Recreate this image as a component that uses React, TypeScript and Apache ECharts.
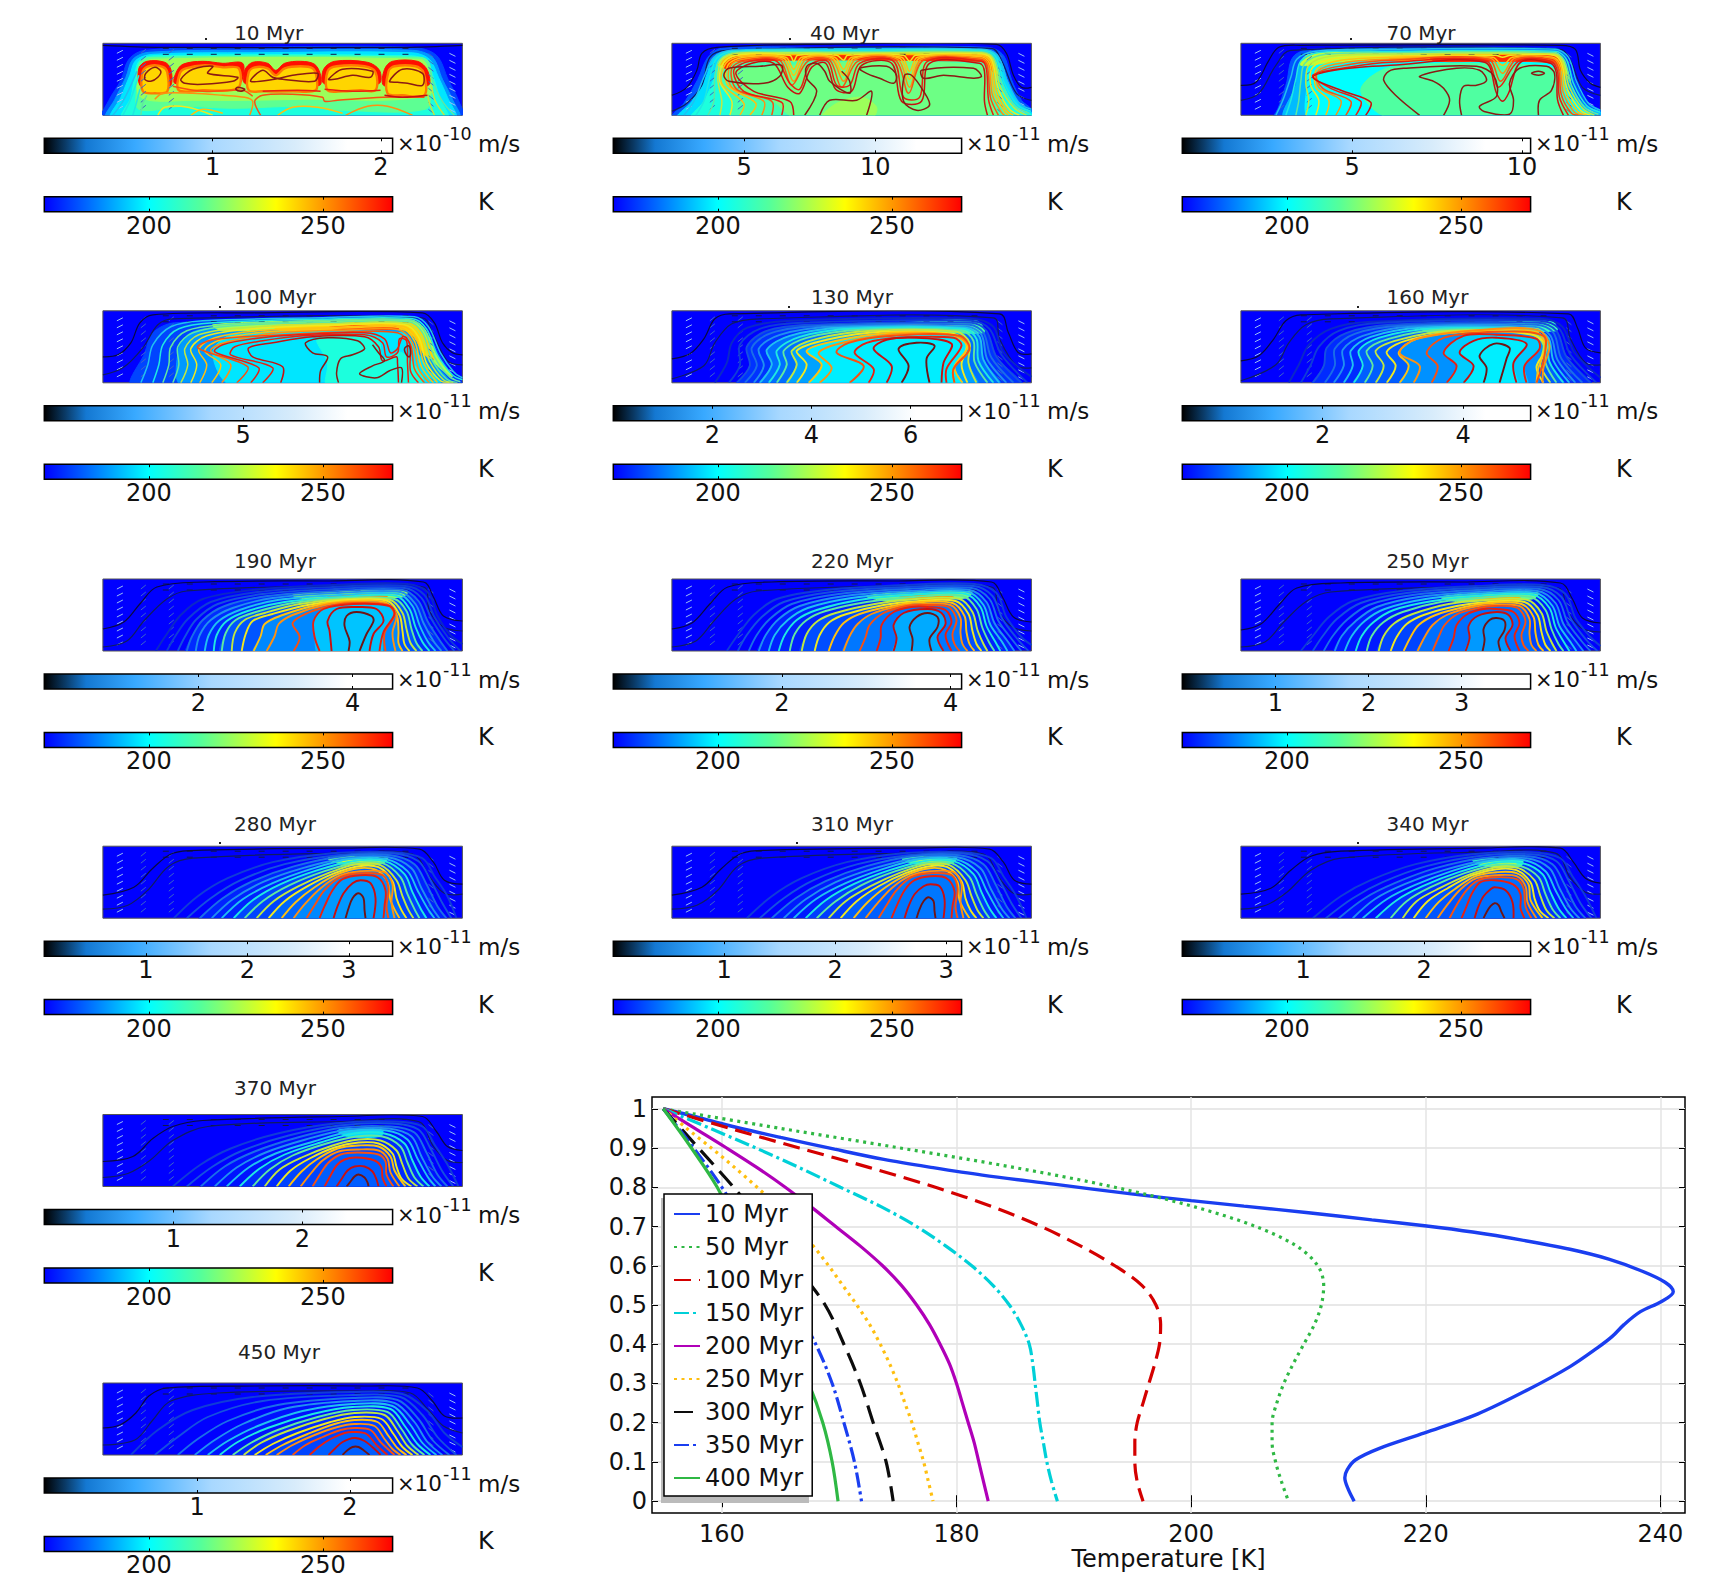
import React, { useEffect, useRef } from 'react';
import * as echarts from 'echarts';

const FONT = '"DejaVu Sans"';

const panelTitles = ['10 Myr', '40 Myr', '70 Myr', '100 Myr', '130 Myr', '160 Myr', '190 Myr', '220 Myr', '250 Myr', '280 Myr', '310 Myr', '340 Myr', '370 Myr', '450 Myr'];
const velocityMax = [2.07, 13.3, 10.25, 8.76, 7.03, 4.96, 4.52, 4.13, 3.74, 3.43, 3.14, 2.88, 2.7, 2.28];
const velocityTicks = [[1, 2], [5, 10], [5, 10], [5], [2, 4, 6], [2, 4], [2, 4], [2, 4], [1, 2, 3], [1, 2, 3], [1, 2, 3], [1, 2], [1, 2], [1, 2]];
const velocityExp = ['-10', '-11', '-11', '-11', '-11', '-11', '-11', '-11', '-11', '-11', '-11', '-11', '-11', '-11'];
const temperatureTicks = [200, 250];

const tempStops: [number, string][] = [[170, '#0000ff'], [200, '#00ffff'], [215, '#55ff9a'], [236.5, '#ffff00'], [270, '#ff0000']];
const velocityStops: [number, string][] = [[0, '#000000'], [0.06, '#0a3a66'], [0.12, '#1478d2'], [0.26, '#38a9ff'], [0.48, '#a8d8ff'], [0.72, '#d8ecfb'], [0.87, '#ffffff'], [1, '#ffffff']];
const contourColors = ['#0a28c8', '#0f3cd8', '#1450e0', '#1a6ee8', '#2090f0', '#20c0f0', '#20e8e0', '#60e8a0', '#c0e840', '#f0e820', '#ffc010', '#ff9010', '#f85010', '#e82010', '#c81010', '#701414'];
const outerColors = ['#0a0a40', '#101c60'];

// profile curves: [temperature K, height]
const curve10 = [[155, 1], [158, 0.978], [160.5, 0.958], [165, 0.927], [169.6, 0.897], [173.8, 0.871], [178, 0.85], [182.2, 0.831], [188.3, 0.808], [194.9, 0.783], [200, 0.766], [204.5, 0.752], [210, 0.735], [215.4, 0.717], [219.9, 0.702], [224, 0.686], [228.1, 0.666], [232.3, 0.642], [235.6, 0.617], [238.3, 0.588], [240.4, 0.558], [241.1, 0.534], [240.1, 0.509], [238.3, 0.483], [236.9, 0.45], [235.9, 0.42], [234.6, 0.39], [232.3, 0.343], [228.7, 0.284], [224.4, 0.222], [219.9, 0.174], [216, 0.134], [214, 0.105], [213.3, 0.08], [213.1, 0.06], [213.4, 0.03], [213.9, 0]];
const curve50 = [[155, 1], [165, 0.95], [175.2, 0.9], [185, 0.85], [193.5, 0.8], [200.3, 0.75], [205.5, 0.7], [209, 0.65], [210.8, 0.6], [211.3, 0.55], [211.1, 0.5], [210.5, 0.45], [209.6, 0.4], [208.7, 0.35], [207.9, 0.3], [207.3, 0.25], [206.9, 0.2], [206.9, 0.15], [207.2, 0.1], [207.7, 0.05], [208.3, 0]];
const curve100 = [[155, 1], [160.7, 0.95], [166.6, 0.9], [172.6, 0.85], [178.2, 0.8], [183.1, 0.75], [187.2, 0.7], [190.6, 0.65], [193.5, 0.6], [195.8, 0.55], [197, 0.5], [197.4, 0.45], [197.3, 0.4], [196.9, 0.35], [196.4, 0.3], [195.9, 0.25], [195.4, 0.2], [195.2, 0.15], [195.2, 0.1], [195.4, 0.05], [195.9, 0]];
const curve150 = [[155, 1], [159, 0.95], [162.9, 0.9], [166.6, 0.85], [170.1, 0.8], [173.6, 0.75], [176.6, 0.7], [179.1, 0.65], [181.3, 0.6], [183.1, 0.55], [184.5, 0.5], [185.5, 0.45], [186.2, 0.4], [186.5, 0.35], [186.7, 0.3], [186.9, 0.25], [187.1, 0.2], [187.4, 0.15], [187.7, 0.1], [188.1, 0.05], [188.6, 0]];
const curve200 = [[155, 1], [157.7, 0.95], [160.4, 0.9], [163, 0.85], [165.4, 0.8], [167.6, 0.75], [169.7, 0.7], [171.8, 0.65], [173.7, 0.6], [175.3, 0.55], [176.6, 0.5], [177.7, 0.45], [178.6, 0.4], [179.4, 0.35], [180, 0.3], [180.5, 0.25], [181, 0.2], [181.5, 0.15], [181.9, 0.1], [182.3, 0.05], [182.7, 0]];
const curve250 = [[155, 1], [157, 0.95], [159.1, 0.9], [161.1, 0.85], [163, 0.8], [164.8, 0.75], [166.4, 0.7], [167.8, 0.65], [169.1, 0.6], [170.3, 0.55], [171.5, 0.5], [172.6, 0.45], [173.5, 0.4], [174.3, 0.35], [175, 0.3], [175.6, 0.25], [176.2, 0.2], [176.7, 0.15], [177.2, 0.1], [177.6, 0.05], [178, 0]];
const curve300 = [[155, 1], [158, 0.9], [161, 0.8], [163.8, 0.7], [166.3, 0.6], [168.8, 0.5], [170.4, 0.4], [171.8, 0.3], [172.9, 0.2], [174, 0.1], [174.6, 0]];
const curve350 = [[155, 1], [157.6, 0.9], [160, 0.8], [162, 0.7], [164.2, 0.6], [166.2, 0.5], [168, 0.4], [169.4, 0.3], [170.4, 0.2], [171.3, 0.1], [171.9, 0]];
const curve400 = [[155, 1], [157.4, 0.9], [159.6, 0.8], [161.2, 0.7], [162.7, 0.6], [164.2, 0.5], [165.8, 0.4], [167.4, 0.3], [168.6, 0.2], [169.4, 0.1], [169.9, 0]];

const profileNames = ['10 Myr', '50 Myr', '100 Myr', '150 Myr', '200 Myr', '250 Myr', '300 Myr', '350 Myr', '400 Myr'];
const profileCurves = [curve10, curve50, curve100, curve150, curve200, curve250, curve300, curve350, curve400];
const profileColors = ['#1a3ef0', '#2fb844', '#d40000', '#00d0d8', '#b000b8', '#ffbf10', '#0c0c0c', '#1a3ef0', '#2fb844'];
const profileDash: (number[] | string)[] = ['solid', [3, 4.5], [17, 8], [15, 4, 3, 4], 'solid', [3, 4.5], [19, 9], [15, 4, 3, 4], 'solid'];
const heightTicks = [0, 0.1, 0.2, 0.3, 0.4, 0.5, 0.6, 0.7, 0.8, 0.9, 1];
const temperatureAxisTicks = [160, 180, 200, 220, 240];

// velocity ticks drawn in every panel
const arrowColumnsLight = [14, 347];
const arrowColumnsDim = [38, 66, 326];
const arrowRows = [6, 13, 20, 27, 34, 41, 48, 55, 62];
const arrowTopXs = [60, 84, 108, 132, 156, 180, 204, 228, 252, 276, 300];
const arrowTopRows = [67, 61];

// panel shapes: flat x,y lists on a 360 x 72 domain
type P = number[];
type Patch = [number, P, number?];
const outer10: P[] = [[0, 70, 60, 68, 300, 68, 360, 70]];
const patches10: Patch[] = [
  [178, [0, -3, 6, 15, 18, 35, 26, 56, 42, 65, 150, 68, 310, 68, 334, 60, 346, 35, 356, 15, 360, -3]],
  [188, [4, -3, 12, 16, 23, 38, 30, 56, 46, 63, 150, 65, 310, 65, 330, 58, 340, 36, 350, 16, 356, -3]],
  [197, [9, -3, 18, 18, 27, 40, 33, 55, 50, 61, 150, 62.5, 310, 62.5, 327, 56, 336, 38, 345, 18, 352, -3]],
  [205, [20, -3, 28, 18, 32, 40, 36, 54, 50, 59.5, 310, 59.5, 324, 54, 332, 35, 337, 18, 344, -3]],
  [216, [36, 6, 34, 30, 37, 53, 50, 58, 318, 58, 327, 52, 329, 25, 323, 6, 240, 5, 200, 9, 130, 7, 80, 9]],
  [224, [38, 18, 37, 48, 50, 56, 318, 56, 325, 48, 326, 20, 200, 16, 90, 15]],
  [268, [37, 30, 36, 47, 44, 54, 62, 53, 68, 46, 68, 30, 58, 30, 45, 30]],
  [242, [40, 24, 40, 44, 47, 49.5, 60, 48.5, 64.5, 43, 64.5, 24, 52, 22], 254],
  [268, [72, 32, 73, 42, 80, 51, 100, 54, 120, 52, 140, 52, 139, 34, 135, 32, 100, 32]],
  [242, [76, 25, 77, 42, 83, 47, 102, 50, 120, 48, 136, 47, 135, 27, 100, 25], 254],
  [268, [142, 32, 142, 45, 150, 53, 165, 52, 173, 45, 182, 52, 198, 54, 212, 51, 218, 40, 217, 30, 190, 30, 160, 30]],
  [242, [146, 25, 146, 43, 152, 48, 165, 47, 173, 40, 182, 47, 198, 49, 210, 47, 214, 38, 213, 25, 190, 24, 160, 24], 254],
  [268, [221, 32, 221, 46, 232, 54, 265, 53, 277, 45, 277, 32, 260, 32, 240, 30]],
  [242, [225, 25, 225, 44, 234, 49, 262, 49, 273, 43, 273, 25, 258, 25, 240, 24], 254],
  [268, [281, 30, 282, 46, 290, 54, 315, 54, 325, 45, 326, 30, 300, 30]],
  [242, [285, 22, 286, 44, 292, 49, 313, 49, 321, 43, 322, 20, 300, 20], 254],
];
const arcs10: P[] = [
  [10, 0, 20, 14, 28, 30, 34, 44], [20, 0, 27, 14, 32, 28, 36, 40], [30, 0, 34, 14, 37, 26], [38, 0, 40, 12, 44, 20],
  [352, 0, 340, 14, 332, 30, 328, 44], [342, 0, 333, 14, 329, 30], [332, 0, 327, 12, 325, 22],
  [55, 0, 62, 8, 85, 8, 110, 0], [88, 0, 100, 6, 120, 2], [175, 0, 190, 8, 215, 8, 240, 2], [243, 0, 265, 9, 285, 9, 310, 0],
  [52, 16, 60, 22, 90, 22, 120, 20, 142, 18, 150, 14, 147, 0],
  [158, 0, 152, 14, 160, 20, 190, 21, 220, 18, 222, 14, 235, 15, 280, 18, 322, 18],
  [70, 29, 100, 24, 140, 25, 150, 19], [160, 24, 195, 25, 218, 24], [222, 26, 250, 24, 278, 25], [282, 20, 300, 18, 325, 20],
];
const loops10: P[] = [[43, 42, 52, 48, 58, 44, 55, 38, 48, 34, 42, 36], [78, 36, 90, 46, 110, 49, 105, 42, 135, 38, 130, 34, 100, 31, 82, 32], [148, 34, 160, 45, 170, 38, 180, 36, 212, 34, 215, 42, 190, 40, 172, 36], [226, 36, 240, 46, 270, 44, 268, 38, 250, 40, 232, 36], [287, 34, 300, 46, 320, 42, 320, 30, 305, 32, 295, 33], [135, 28, 142, 26, 138, 24, 133, 26]];

const outer40: P[] = [[0, 20, 15, 28, 25, 45, 30, 62, 45, 68, 150, 71, 325, 71, 335, 62, 342, 40, 350, 28, 360, 28], [0, 4, 15, 12, 30, 30, 38, 58, 55, 65, 320, 67, 330, 55, 345, 22, 360, 15]];
const patches40: Patch[] = [
  [180, [0, -3, 12, 12, 26, 36, 36, 58, 50, 67, 150, 68, 316, 68, 332, 60, 340, 36, 350, 15, 360, 6, 360, -3]],
  [196, [6, -3, 20, 14, 34, 38, 42, 58, 60, 65, 315, 65, 328, 58, 336, 34, 348, 11, 360, 3, 360, -3]],
  [205, [20, -3, 32, 14, 42, 36, 47, 55, 62, 60, 310, 60, 322, 55, 332, 30, 344, 9, 360, 1, 360, -3]],
  [212, [60, -3, 62, 14, 50, 32, 52, 52, 315, 54, 325, 28, 336, 6, 342, -3]],
  [218, [125, -3, 100, 15, 70, 25, 62, 45, 310, 50, 316, 20, 325, -3]],
  [224, [150, -3, 165, 12, 190, 18, 205, 8, 200, -3]],
  [228, [46, 50, 50, 58, 64, 62.5, 310, 62.5, 322, 58, 328, 38, 322, 50, 312, 57, 64, 57, 52, 48]],
  [245, [47, 50, 52, 56, 64, 60.5, 310, 60.5, 320, 56, 325, 40, 320, 50, 310, 55.5, 64, 55.5]],
  [264, [52, 48, 54, 53, 64, 58.5, 310, 58.5, 318, 54, 321, 44, 316, 50, 308, 54, 64, 54, 56, 46]],
];
const arcs40: P[] = [
  [12, 0, 22, 14, 32, 38, 42, 58, 60, 65, 180, 66, 310, 66, 326, 60, 336, 34, 348, 12, 360, 6],
  [24, 0, 32, 14, 38, 38, 45, 57, 62, 64, 180, 65, 310, 65, 324, 59, 333, 32, 346, 10, 360, 4],
  [36, 0, 42, 14, 43, 38, 48, 56, 64, 63, 180, 63.5, 310, 63.5, 322, 58, 331, 30, 344, 9, 358, 2],
  [48, 0, 50, 14, 46, 36, 50, 55, 66, 62, 120, 62, 180, 62, 310, 62.5, 321, 57, 329, 28, 342, 8, 355, 0],
  [58, 0, 60, 14, 48, 34, 52, 53, 68, 60.5, 118, 60, 122, 54, 126, 60, 165, 60, 172, 55, 176, 60, 232, 60, 238, 54, 244, 60, 310, 61, 320, 56, 327, 26, 338, 6, 348, 0],
  [68, 0, 72, 12, 50, 32, 54, 52, 70, 59, 114, 58, 122, 46, 130, 58, 163, 58, 172, 46, 180, 58, 230, 58, 238, 44, 246, 58, 310, 60, 319, 54, 325, 24, 335, 5, 342, 0],
  [78, 0, 84, 12, 56, 30, 56, 50, 72, 58, 112, 57, 122, 40, 132, 57, 161, 57, 172, 40, 182, 57, 228, 57, 238, 36, 248, 57, 310, 58.5, 318, 52, 323, 22, 333, 4, 337, 0],
  [90, 0, 92, 14, 60, 28, 58, 49, 74, 56.5, 110, 56, 122, 34, 134, 56, 160, 56, 172, 34, 184, 56, 226, 56, 238, 28, 250, 56, 310, 57, 317, 50, 321, 20, 330, 3, 333, 0],
  [100, 0, 100, 14, 65, 26, 60, 47, 76, 55, 108, 55, 120, 30, 136, 54, 158, 55, 170, 28, 186, 54, 224, 55, 237, 22, 252, 55, 310, 55.5, 316, 48, 319, 18, 327, 0],
  [110, 0, 110, 13, 72, 24, 62, 45, 78, 54, 105, 54, 118, 32, 128, 26, 138, 50, 156, 54, 165, 30, 178, 30, 188, 52, 222, 54, 232, 18, 248, 18, 256, 54, 310, 54, 315, 46, 317, 16, 322, 0],
  [122, 0, 118, 14, 82, 24, 64, 42, 80, 52, 102, 52, 116, 28, 128, 22, 140, 48, 154, 52, 164, 26, 180, 24, 190, 50, 220, 52, 230, 14, 250, 14, 258, 52, 308, 52, 313, 44, 313, 14, 316, 0],
];
const loops40: P[] = [[57, 47, 88, 49, 110, 50, 108, 39, 92, 32, 57, 34, 52, 40], [133, 0, 145, 24, 135, 37, 135, 49, 145, 52, 153, 44, 158, 34, 178, 22, 178, 34, 170, 44], [188, 47, 215, 49, 225, 40, 222, 32, 208, 37, 195, 42], [148, 0, 158, 15, 185, 15, 200, 24, 195, 0], [250, 45, 302, 47, 310, 39, 302, 37, 272, 40, 252, 37], [233, 40, 232, 14, 245, 5, 258, 10, 252, 24, 240, 40]];

const outer70: P[] = [[0, 30, 15, 33, 28, 55, 38, 68, 60, 70, 320, 70, 335, 66, 340, 45, 350, 32, 360, 28], [0, 15, 18, 22, 35, 50, 50, 65, 320, 66, 330, 55, 342, 28, 360, 20]];
const patches70: Patch[] = [
  [180, [0, -3, 30, -3, 45, 30, 52, 58, 70, 66, 315, 67, 325, 60, 334, 35, 347, 12, 360, 5, 360, -3]],
  [192, [45, -3, 55, 30, 60, 55, 75, 62, 313, 63, 322, 55, 330, 32, 344, 10, 360, 3, 360, -3]],
  [200, [70, -3, 66, 30, 70, 52, 90, 58, 310, 60, 320, 52, 326, 28, 340, 8, 355, -3]],
  [214, [150, -3, 120, 25, 150, 48, 300, 50, 320, 42, 320, 20, 332, -3]],
  [228, [60, 50, 66, 60, 90, 63, 314, 63, 322, 57, 330, 34, 322, 48, 312, 58, 150, 56, 90, 53]],
  [246, [150, 59, 250, 61, 314, 61, 320, 56, 325, 40, 318, 50, 310, 56, 250, 56, 150, 55]],
  [264, [190, 57, 250, 59.5, 314, 59.5, 319, 54, 320, 44, 314, 52, 250, 54, 195, 54]],
];
const arcs70: P[] = [
  [35, 0, 42, 15, 50, 38, 56, 56, 75, 64, 150, 66, 315, 66, 328, 58, 336, 34, 348, 12, 360, 5],
  [45, 0, 50, 15, 55, 36, 60, 54, 80, 63, 150, 64, 315, 64, 326, 56, 333, 32, 346, 10, 360, 3],
  [55, 0, 58, 15, 60, 34, 64, 52, 85, 61, 150, 62.5, 314, 62.5, 324, 55, 331, 30, 344, 8, 358, 1],
  [65, 0, 68, 15, 65, 32, 68, 50, 90, 59, 150, 61, 314, 61, 322, 54, 329, 28, 342, 7, 354, 0],
  [75, 0, 78, 15, 70, 30, 72, 48, 95, 57, 150, 59, 255, 60, 262, 58, 270, 60, 313, 60, 321, 52, 327, 26, 340, 5, 350, 0],
  [85, 0, 88, 15, 75, 28, 76, 46, 100, 55, 150, 58, 252, 58, 262, 50, 272, 58, 312, 58, 320, 50, 325, 24, 337, 4, 346, 0],
  [95, 0, 100, 15, 78, 28, 78, 45, 105, 53, 150, 56, 250, 57, 262, 42, 274, 57, 312, 57, 319, 48, 323, 22, 334, 3, 342, 0],
  [105, 0, 110, 14, 82, 27, 76, 42, 110, 51, 150, 55, 248, 56, 260, 34, 276, 56, 311, 55, 318, 46, 321, 20, 331, 2, 338, 0],
  [115, 0, 120, 14, 90, 27, 72, 40, 108, 48, 150, 53, 246, 54, 258, 28, 278, 54, 310, 54, 317, 44, 319, 18, 328, 0],
  [125, 0, 130, 13, 100, 25, 72, 38, 100, 46, 150, 50, 244, 53, 256, 22, 262, 14, 268, 22, 280, 53, 310, 52, 316, 42, 317, 16, 323, 0],
];
const loops70: P[] = [[179, 0, 156, 19, 143, 35, 148, 44, 163, 47, 236, 49, 253, 40, 256, 19, 239, 9, 243, 4, 269, 1, 273, 15, 269, 32, 279, 47, 306, 49, 314, 42, 311, 25, 299, 15, 298, 0], [203, 0, 209, 15, 203, 27, 193, 34, 179, 39, 216, 47, 239, 45, 246, 35, 236, 30, 223, 29, 219, 15, 221, 0], [291, 42, 298, 44, 304, 42, 298, 40]];

const outer100: P[] = [[0, 26, 15, 28, 28, 40, 37, 60, 50, 68, 150, 70, 320, 70, 332, 60, 340, 40, 350, 30, 360, 28], [0, 8, 20, 15, 40, 35, 55, 58, 70, 64, 320, 65, 330, 50, 345, 22, 360, 18]];
const patches100: Patch[] = [
  [178, [30, -3, 42, 30, 50, 50, 72, 60, 300, 65, 316, 63, 326, 50, 336, 30, 350, 8, 360, 0, 360, -3]],
  [188, [80, -3, 75, 30, 85, 48, 110, 55, 300, 60, 315, 55, 325, 30, 345, 5, 352, -3]],
  [197, [130, -3, 110, 30, 130, 48, 300, 50, 315, 30, 335, 3, 340, -3]],
  [205, [225, -3, 225, 20, 215, 45, 275, 45, 280, 25, 300, 30, 320, -3]],
  [225, [110, 58, 200, 62, 308, 63, 322, 54, 336, 25, 350, 6, 332, 20, 318, 42, 305, 54, 200, 55, 120, 52]],
  [242, [170, 57, 240, 60, 308, 60, 320, 50, 332, 24, 322, 28, 312, 45, 300, 53, 240, 53, 180, 52]],
  [262, [225, 55, 250, 57, 290, 57, 296, 54, 250, 53]],
];
const arcs100: P[] = [
  [38, 0, 45, 18, 50, 38, 68, 56, 100, 62, 220, 65, 312, 66, 326, 56, 338, 30, 352, 10, 360, 5],
  [50, 0, 56, 18, 60, 38, 76, 54, 110, 60, 220, 63.5, 310, 64, 324, 54, 335, 28, 350, 8, 360, 3],
  [60, 0, 66, 18, 68, 36, 84, 52, 120, 58, 225, 62, 308, 62.5, 322, 52, 332, 26, 347, 6, 358, 1],
  [70, 0, 76, 18, 75, 36, 90, 50, 130, 57, 230, 60.5, 306, 61, 320, 50, 329, 24, 344, 4, 355, 0],
  [78, 0, 85, 18, 82, 34, 96, 48, 140, 55, 235, 59, 304, 59.5, 318, 48, 327, 22, 341, 3, 351, 0],
  [88, 0, 94, 18, 88, 34, 104, 47, 150, 54, 240, 58, 302, 58, 316, 46, 324, 20, 338, 2, 347, 0],
  [97, 0, 104, 18, 96, 33, 112, 45, 155, 52, 245, 56, 300, 56.5, 314, 44, 322, 18, 335, 0],
  [109, 0, 118, 18, 102, 32, 118, 43, 165, 51, 250, 55, 298, 55, 312, 42, 319, 16, 331, 0],
  [119, 0, 128, 18, 108, 32, 125, 41, 175, 50, 250, 53, 296, 53, 310, 40, 316, 14, 327, 0],
  [134, 0, 145, 16, 95, 35, 110, 43, 180, 48, 250, 51, 295, 50, 308, 38, 312, 14, 322, 0],
  [148, 0, 156, 15, 112, 31, 120, 38, 150, 44, 195, 48, 262, 50, 282, 44, 288, 30, 295, 34, 300, 46, 304, 45, 308, 36, 308, 12, 316, 0],
  [160, 0, 170, 15, 128, 28, 132, 36, 160, 42, 200, 47, 262, 48, 280, 40, 284, 26, 295, 30, 297, 44, 304, 42, 305, 20, 306, 0],
  [178, 0, 180, 16, 150, 26, 146, 35, 170, 40, 210, 46, 262, 46, 276, 36, 280, 22, 294, 26, 295, 20, 296, 0],
];
const loops100: P[] = [[217, 0, 218, 12, 225, 26, 210, 30, 203, 40, 225, 45, 255, 42, 262, 34, 250, 28, 238, 24, 234, 10, 236, 0], [299, 0, 299, 15, 287, 12, 274, 5, 257, 9, 270, 17, 282, 22, 276, 30, 270, 38], [304, 28, 302, 34, 306, 37, 308, 32, 307, 26]];

const outer130: P[] = [[0, 24, 18, 29, 32, 44, 43, 64, 58, 69, 328, 69, 337, 50, 347, 30, 360, 29], [0, 4, 32, 17, 43, 40, 60, 59, 88, 64, 322, 65, 328, 44, 345, 17, 360, 15]];
const fills130: [number, number][] = [[2, 176], [5, 183], [8, 189], [10, 198]];
const patches130: Patch[] = [[212, [150, 57, 230, 60, 305, 62, 312, 50, 230, 54, 165, 54]], [240, [215, 58, 265, 58, 285, 56, 255, 55, 225, 55]]];
const arcs130: P[] = [
  [43, 0, 55, 20, 60, 40, 75, 55, 120, 62, 300, 64, 322, 56, 332, 30, 360, 6],
  [57, 0, 68, 17, 68, 38, 88, 54, 130, 60, 300, 62, 318, 54, 330, 28, 356, 0],
  [65, 0, 78, 17, 75, 36, 95, 52, 140, 58, 300, 60, 315, 52, 325, 26, 350, 0],
  [73, 0, 85, 17, 80, 35, 100, 50, 150, 57, 298, 58, 312, 50, 320, 25, 342, 0],
  [82, 0, 92, 17, 87, 34, 108, 48, 160, 56, 296, 56, 310, 48, 316, 23, 335, 0],
  [88, 0, 100, 18, 95, 33, 118, 47, 170, 55, 294, 55, 308, 46, 312, 23, 328, 0],
  [97, 0, 108, 18, 105, 32, 128, 46, 180, 54, 292, 54, 305, 44, 307, 22, 322, 0],
  [105, 0, 115, 18, 112, 32, 135, 45, 190, 53, 290, 52, 302, 42, 303, 21, 316, 0],
  [115, 0, 125, 18, 120, 32, 145, 44, 200, 52, 285, 51, 298, 40, 297, 20, 305, 0],
  [125, 0, 135, 18, 125, 32, 155, 43, 210, 51, 282, 49, 295, 38, 290, 18, 296, 0],
  [137, 0, 150, 18, 135, 32, 165, 42, 220, 50, 280, 48, 296, 36, 283, 16, 291, 0],
  [148, 0, 160, 15, 147, 30, 175, 41, 230, 49, 285, 47, 298, 34, 282, 14, 283, 0],
  [178, 0, 192, 17, 165, 30, 177, 40, 222, 47, 288, 47, 298, 34, 282, 14, 283, 0],
  [197, 0, 202, 14, 183, 30, 195, 40, 228, 45, 282, 45, 290, 37, 275, 14, 275, 0],
  [215, 0, 220, 17, 202, 34, 215, 43, 245, 45, 280, 39, 272, 20, 270, 0],
  [230, 0, 237, 17, 227, 34, 245, 40, 263, 37, 255, 24, 258, 0],
];

const outer160: P[] = [[0, 22, 18, 27, 33, 44, 45, 62, 60, 68, 328, 69, 337, 55, 345, 35, 360, 30], [0, 2, 35, 18, 48, 40, 65, 58, 90, 64, 322, 65, 330, 44, 345, 20, 360, 18]];
const fills160: [number, number][] = [[2, 175], [6, 181], [10, 187], [13, 194], [14, 198]];
const patches160: Patch[] = [[210, [180, 55, 240, 60, 312, 61, 316, 52, 250, 53, 190, 50]], [238, [220, 57, 280, 57, 300, 54, 250, 53]]];
const arcs160: P[] = [
  [48, 0, 58, 18, 68, 38, 90, 54, 130, 61, 300, 64, 322, 56, 334, 30, 360, 5],
  [60, 0, 70, 18, 78, 36, 98, 52, 140, 60, 300, 62, 319, 54, 330, 28, 356, 0],
  [72, 0, 83, 17, 86, 35, 106, 50, 150, 58, 298, 60, 316, 52, 326, 26, 350, 0],
  [84, 0, 94, 17, 94, 34, 114, 49, 160, 57, 296, 58, 313, 50, 321, 24, 342, 0],
  [93, 0, 103, 17, 102, 33, 122, 47, 170, 56, 294, 56, 310, 47, 317, 23, 335, 0],
  [103, 0, 112, 17, 110, 32, 130, 46, 180, 55, 292, 54, 308, 45, 313, 22, 329, 0],
  [113, 0, 122, 17, 118, 32, 138, 45, 190, 54, 290, 52, 306, 43, 309, 21, 323, 0],
  [124, 0, 132, 17, 126, 32, 148, 44, 200, 53, 288, 50, 305, 41, 305, 20, 316, 0],
  [135, 0, 143, 17, 135, 32, 158, 43, 210, 52, 290, 49, 303, 38, 300, 18, 310, 0],
  [146, 0, 155, 17, 146, 31, 168, 43, 225, 51, 292, 48, 306, 36, 296, 16, 303, 0],
  [159, 0, 168, 17, 158, 30, 176, 44, 230, 52, 295, 51, 305, 37, 298, 15, 296, 0],
  [173, 0, 179, 17, 159, 30, 176, 44, 256, 54, 299, 52, 309, 37, 303, 15, 302, 0],
  [191, 0, 197, 17, 186, 30, 203, 45, 256, 51, 303, 47, 304, 27, 296, 0],
  [206, 0, 216, 17, 203, 30, 223, 47, 256, 48, 296, 44, 299, 34, 284, 17, 286, 0],
  [223, 0, 233, 17, 219, 30, 233, 42, 256, 45, 286, 39, 273, 20, 276, 0],
  [243, 0, 246, 15, 239, 27, 253, 39, 269, 35, 266, 24, 259, 0],
];

const outer190: P[] = [[0, 22, 21, 29, 37, 47, 54, 64, 101, 69, 221, 70, 321, 69, 331, 54, 341, 35, 360, 30], [0, 4, 24, 10, 41, 30, 64, 52, 84, 60, 221, 65, 321, 64, 327, 40, 341, 24, 360, 20]];
const fills190: [number, number][] = [[3, 175], [7, 180], [10, 186], [13, 193]];
const patches190: Patch[] = [[222, [190, 56, 240, 60, 305, 60, 300, 54, 250, 53, 210, 51]], [252, [225, 54, 250, 56, 285, 55, 262, 52]]];
const arcs190: P[] = [
  [53, 0, 62, 14, 78, 36, 100, 52, 150, 61, 230, 66, 305, 67, 326, 58, 335, 35, 348, 16, 360, 7],
  [64, 0, 72, 14, 85, 32, 108, 49, 155, 59, 230, 64, 303, 65, 322, 56, 332, 34, 346, 13, 358, 0],
  [75, 0, 82, 14, 93, 31, 115, 47, 160, 57, 232, 62, 302, 63, 319, 53, 329, 32, 342, 12, 352, 0],
  [84, 0, 89, 14, 100, 31, 122, 45, 165, 55, 235, 60, 300, 61, 316, 50, 325, 30, 337, 11, 345, 0],
  [93, 0, 97, 16, 108, 31, 130, 43, 170, 53, 235, 58, 298, 59, 313, 47, 321, 28, 331, 10, 339, 0],
  [102, 0, 106, 16, 116, 30, 137, 41, 175, 51, 238, 56, 296, 57, 310, 45, 317, 26, 325, 10, 333, 0],
  [111, 0, 114, 16, 124, 30, 145, 40, 182, 49, 240, 54, 294, 55, 307, 42, 313, 24, 320, 9, 327, 0],
  [119, 0, 123, 18, 133, 31, 153, 39, 190, 48, 240, 53, 292, 52, 304, 40, 309, 22, 314, 8, 320, 0],
  [129, 0, 132, 18, 142, 31, 162, 38, 197, 47, 245, 52, 288, 51, 300, 38, 304, 22, 308, 8, 314, 0],
  [139, 0, 143, 17, 150, 30, 170, 37, 205, 46, 245, 51, 285, 50, 297, 36, 300, 20, 302, 7, 307, 0],
  [151, 0, 158, 15, 162, 27, 180, 36, 215, 46, 250, 50, 282, 49, 294, 36, 296, 20, 296, 8, 300, 0],
  [164, 0, 172, 15, 176, 27, 190, 36, 222, 46, 252, 49, 284, 47, 294, 36, 290, 18, 293, 0],
  [191, 0, 197, 14, 190, 28, 205, 38, 232, 46, 252, 48, 285, 46, 292, 36, 282, 18, 283, 0],
  [217, 0, 212, 14, 211, 30, 221, 42, 251, 47, 287, 45, 292, 37, 281, 19, 277, 0],
  [229, 0, 227, 20, 225, 30, 234, 42, 254, 44, 274, 42, 281, 30, 271, 17, 267, 0],
  [246, 0, 247, 10, 242, 25, 244, 35, 254, 39, 269, 35, 271, 30, 264, 17, 257, 0],
];

const outer220: P[] = [[0, 22, 20, 28, 38, 47, 56, 64, 100, 69, 221, 70, 320, 69, 331, 54, 342, 34, 360, 29], [0, 4, 24, 10, 42, 30, 64, 52, 86, 60, 221, 65, 320, 64, 327, 40, 341, 24, 360, 20]];
const fills220: [number, number][] = [[3, 174], [7, 179], [10, 184], [13, 190]];
const patches220: Patch[] = [[220, [195, 55, 245, 59, 300, 59, 295, 53, 250, 52, 215, 50]], [250, [228, 54, 252, 56, 282, 54, 262, 51]]];
const arcs220: P[] = [
  [55, 0, 66, 16, 82, 36, 105, 52, 155, 61, 235, 66, 303, 67, 325, 58, 335, 34, 350, 14, 360, 6],
  [66, 0, 75, 16, 90, 34, 112, 49, 160, 59, 235, 64, 302, 65, 321, 55, 331, 32, 346, 12, 357, 0],
  [77, 0, 85, 16, 98, 32, 120, 47, 167, 57, 236, 62, 300, 63, 318, 52, 327, 30, 341, 11, 350, 0],
  [87, 0, 94, 16, 107, 32, 128, 45, 173, 55, 238, 60, 298, 61, 315, 49, 323, 28, 336, 10, 343, 0],
  [97, 0, 103, 16, 116, 31, 136, 43, 180, 53, 240, 58, 296, 59, 312, 46, 319, 26, 330, 10, 336, 0],
  [107, 0, 113, 16, 125, 31, 145, 41, 187, 51, 240, 56, 294, 57, 309, 44, 315, 25, 324, 9, 329, 0],
  [118, 0, 123, 17, 135, 31, 154, 40, 195, 49, 242, 54, 291, 55, 305, 42, 311, 23, 318, 8, 323, 0],
  [130, 0, 135, 17, 146, 30, 164, 38, 203, 47, 245, 52, 288, 52, 301, 39, 306, 21, 312, 7, 316, 0],
  [143, 0, 148, 16, 158, 29, 175, 37, 212, 46, 248, 50, 284, 50, 297, 37, 301, 20, 305, 7, 310, 0],
  [157, 0, 163, 15, 172, 28, 188, 37, 220, 45, 250, 49, 281, 48, 293, 35, 295, 19, 298, 7, 303, 0],
  [172, 0, 178, 15, 186, 27, 200, 37, 228, 45, 252, 47, 279, 46, 289, 33, 289, 18, 291, 7, 296, 0],
  [188, 0, 194, 14, 198, 26, 212, 38, 235, 45, 254, 46, 277, 44, 285, 31, 281, 17, 283, 7, 288, 0],
  [205, 0, 209, 13, 210, 26, 222, 39, 240, 44, 256, 44, 274, 41, 280, 29, 274, 16, 280, 0],
  [222, 0, 225, 13, 222, 26, 232, 38, 256, 42, 270, 38, 274, 27, 266, 14, 272, 0],
  [240, 0, 241, 12, 238, 24, 245, 34, 256, 38, 266, 34, 266, 24, 258, 12, 260, 0],
];

const outer250: P[] = [[0, 21, 20, 27, 38, 46, 56, 63, 100, 68, 221, 69, 320, 68, 332, 52, 342, 33, 360, 28], [0, 4, 24, 9, 42, 28, 66, 50, 90, 59, 221, 64, 318, 63, 327, 40, 341, 23, 360, 19]];
const fills250: [number, number][] = [[3, 173], [7, 178], [10, 183], [13, 188]];
const patches250: Patch[] = [[218, [200, 54, 245, 58, 298, 58, 292, 52, 250, 51, 220, 49]], [246, [230, 53, 252, 55, 280, 53, 262, 50]]];
const arcs250: P[] = [
  [60, 0, 72, 15, 88, 34, 112, 50, 160, 60, 235, 65, 302, 66, 325, 57, 335, 33, 350, 14, 360, 5],
  [72, 0, 82, 15, 96, 32, 120, 48, 166, 58, 235, 63, 301, 64, 321, 54, 331, 31, 346, 11, 357, 0],
  [83, 0, 92, 15, 106, 31, 128, 46, 172, 56, 236, 61, 299, 62, 318, 51, 327, 29, 341, 10, 350, 0],
  [94, 0, 101, 15, 115, 30, 136, 44, 178, 54, 238, 59, 297, 60, 315, 48, 323, 27, 336, 9, 343, 0],
  [104, 0, 111, 15, 124, 30, 144, 42, 185, 52, 240, 57, 295, 58, 312, 45, 319, 25, 330, 9, 336, 0],
  [115, 0, 121, 15, 133, 29, 153, 41, 192, 50, 240, 55, 293, 56, 309, 43, 315, 24, 324, 8, 329, 0],
  [126, 0, 131, 15, 143, 29, 162, 39, 200, 49, 242, 53, 290, 54, 305, 41, 311, 22, 318, 7, 323, 0],
  [138, 0, 143, 15, 154, 28, 172, 37, 208, 47, 245, 51, 287, 51, 301, 38, 306, 20, 312, 7, 316, 0],
  [150, 0, 156, 14, 166, 27, 183, 36, 216, 45, 248, 49, 284, 49, 297, 36, 301, 19, 305, 6, 310, 0],
  [163, 0, 170, 14, 178, 26, 195, 36, 224, 44, 250, 48, 281, 47, 293, 34, 295, 18, 298, 6, 303, 0],
  [177, 0, 184, 14, 192, 26, 206, 36, 232, 44, 252, 46, 279, 45, 289, 32, 289, 17, 291, 6, 296, 0],
  [192, 0, 198, 14, 204, 26, 217, 37, 238, 43, 254, 45, 277, 43, 285, 30, 281, 16, 283, 6, 288, 0],
  [208, 0, 213, 13, 216, 26, 227, 37, 243, 42, 256, 42, 273, 39, 279, 28, 274, 15, 279, 0],
  [225, 0, 229, 13, 228, 25, 237, 35, 256, 39, 268, 36, 272, 26, 265, 13, 270, 0],
  [242, 0, 244, 11, 243, 22, 249, 31, 256, 33, 264, 30, 264, 21, 258, 10, 260, 0],
];

const outer280: P[] = [[0, 23, 31, 31, 50, 50, 70, 65, 100, 68, 240, 70, 317, 69, 331, 56, 342, 38, 360, 34], [0, 9, 25, 13, 45, 28, 66, 52, 90, 60, 240, 65, 310, 64, 328, 40, 342, 25, 360, 24]];
const fills280: [number, number][] = [[2, 174], [5, 178], [8, 182], [10, 186], [12, 188]];
const patches280: Patch[] = [[216, [225, 60, 250, 62, 285, 60, 280, 55, 240, 54]], [234, [240, 57, 260, 58, 278, 56, 255, 54]]];
const arcs280: P[] = [
  [71, 0, 95, 22, 125, 40, 170, 56, 230, 65, 290, 66, 320, 60, 332, 42, 345, 22, 354, 0],
  [84, 0, 108, 20, 138, 38, 182, 54, 235, 63, 290, 65, 316, 57, 328, 38, 340, 15, 349, 0],
  [97, 0, 120, 20, 150, 37, 192, 52, 240, 62, 288, 63, 312, 54, 324, 34, 335, 12, 344, 0],
  [109, 0, 130, 19, 160, 36, 200, 50, 243, 60, 286, 61, 309, 50, 319, 30, 330, 10, 337, 0],
  [119, 0, 140, 19, 170, 35, 208, 49, 246, 59, 284, 59, 305, 47, 315, 28, 325, 10, 332, 0],
  [131, 0, 150, 18, 178, 34, 215, 48, 250, 57, 282, 57, 302, 44, 310, 26, 318, 10, 324, 0],
  [142, 0, 160, 17, 187, 33, 222, 47, 252, 55, 280, 55, 298, 41, 305, 24, 312, 9, 317, 0],
  [154, 0, 171, 17, 196, 32, 228, 46, 254, 54, 278, 53, 294, 38, 300, 22, 306, 8, 311, 0],
  [166, 0, 182, 17, 205, 32, 232, 45, 256, 52, 276, 51, 290, 37, 294, 20, 299, 8, 304, 0],
  [179, 0, 193, 16, 212, 31, 235, 44, 256, 50, 274, 48, 285, 36, 288, 18, 297, 0],
  [191, 0, 203, 15, 218, 30, 236, 42, 258, 47, 282, 46, 290, 34, 289, 16, 292, 0],
  [204, 0, 212, 13, 222, 28, 238, 41, 258, 45, 280, 43, 286, 30, 284, 12, 286, 0],
  [217, 0, 222, 12, 230, 28, 240, 39, 258, 43, 275, 41, 283, 28, 282, 12, 281, 0],
  [231, 0, 235, 12, 241, 25, 250, 35, 258, 38, 268, 35, 273, 20, 271, 0],
  [243, 0, 246, 10, 250, 20, 256, 25, 261, 20, 262, 8, 263, 0],
];

const outer310: P[] = [[0, 23, 30, 31, 50, 50, 70, 65, 100, 68, 240, 70, 318, 69, 332, 56, 343, 38, 360, 34], [0, 9, 25, 13, 46, 28, 66, 52, 90, 60, 240, 65, 312, 64, 328, 40, 342, 25, 360, 24]];
const fills310: [number, number][] = [[2, 173], [5, 177], [8, 181], [11, 184]];
const patches310: Patch[] = [[212, [230, 60, 255, 62, 285, 60, 280, 55, 245, 54]], [230, [245, 57, 262, 58, 276, 56, 258, 54]]];
const arcs310: P[] = [
  [75, 0, 100, 22, 130, 40, 175, 56, 232, 65, 290, 66, 320, 60, 332, 42, 345, 22, 355, 0],
  [88, 0, 112, 20, 142, 38, 186, 54, 237, 63, 290, 65, 316, 57, 328, 38, 340, 15, 350, 0],
  [100, 0, 124, 20, 154, 37, 195, 52, 241, 62, 288, 63, 312, 54, 324, 34, 335, 12, 344, 0],
  [112, 0, 134, 19, 164, 36, 203, 50, 245, 60, 286, 61, 309, 50, 319, 30, 330, 10, 338, 0],
  [122, 0, 144, 19, 174, 35, 211, 49, 248, 59, 284, 59, 305, 47, 315, 28, 325, 10, 332, 0],
  [134, 0, 154, 18, 182, 34, 218, 48, 252, 57, 282, 57, 302, 44, 310, 26, 318, 10, 325, 0],
  [145, 0, 164, 17, 190, 33, 224, 47, 254, 55, 280, 55, 298, 41, 305, 24, 312, 9, 318, 0],
  [157, 0, 174, 17, 199, 32, 230, 46, 256, 54, 278, 53, 294, 38, 300, 22, 306, 8, 312, 0],
  [169, 0, 185, 17, 207, 32, 234, 45, 258, 52, 276, 51, 290, 37, 294, 20, 299, 8, 305, 0],
  [182, 0, 196, 16, 214, 31, 237, 44, 258, 50, 274, 48, 286, 36, 288, 18, 298, 0],
  [194, 0, 206, 15, 220, 30, 238, 42, 259, 47, 282, 46, 290, 34, 289, 16, 292, 0],
  [207, 0, 215, 13, 225, 28, 240, 41, 259, 45, 280, 43, 286, 30, 284, 12, 286, 0],
  [220, 0, 225, 12, 233, 28, 243, 38, 259, 42, 275, 40, 283, 27, 281, 12, 280, 0],
  [233, 0, 237, 12, 243, 24, 252, 32, 259, 34, 268, 32, 273, 19, 272, 0],
  [245, 0, 248, 9, 252, 17, 257, 21, 262, 17, 263, 7, 264, 0],
];

const outer340: P[] = [[0, 24, 30, 30, 50, 48, 70, 62, 100, 67, 240, 70, 320, 70, 333, 56, 345, 40, 360, 35], [0, 9, 25, 13, 46, 26, 70, 48, 100, 60, 240, 66, 315, 65, 330, 40, 345, 26, 360, 24]];
const fills340: [number, number][] = [[2, 172], [5, 176], [8, 180], [11, 183]];
const patches340: Patch[] = [[208, [232, 58, 256, 60, 282, 58, 280, 52, 245, 52]], [226, [240, 54, 260, 56, 276, 54, 258, 51]]];
const arcs340: P[] = [
  [72, 0, 100, 22, 130, 38, 175, 54, 232, 64, 290, 66, 320, 60, 332, 42, 345, 22, 356, 0],
  [85, 0, 112, 20, 142, 36, 186, 52, 237, 62, 290, 64, 316, 57, 328, 38, 340, 15, 351, 0],
  [98, 0, 124, 20, 154, 35, 195, 50, 241, 60, 288, 62, 312, 54, 324, 34, 335, 12, 345, 0],
  [112, 0, 134, 19, 164, 34, 203, 48, 245, 58, 286, 60, 309, 50, 319, 30, 330, 10, 339, 0],
  [122, 0, 146, 19, 174, 33, 211, 47, 248, 57, 284, 58, 305, 47, 315, 28, 325, 10, 333, 0],
  [135, 0, 156, 18, 182, 32, 218, 46, 252, 55, 282, 55, 302, 44, 310, 26, 318, 10, 326, 0],
  [150, 0, 166, 17, 190, 31, 224, 45, 254, 53, 280, 52, 298, 41, 305, 24, 312, 9, 320, 0],
  [162, 0, 176, 17, 199, 30, 230, 44, 256, 51, 278, 50, 294, 38, 300, 22, 306, 8, 314, 0],
  [173, 0, 187, 17, 207, 30, 232, 43, 256, 49, 276, 48, 290, 36, 294, 20, 299, 8, 308, 0],
  [185, 0, 198, 16, 214, 29, 235, 42, 256, 46, 276, 45, 288, 34, 290, 18, 302, 0],
  [197, 0, 208, 15, 220, 29, 236, 40, 256, 43, 276, 42, 285, 32, 287, 16, 296, 0],
  [209, 0, 216, 13, 226, 28, 238, 38, 255, 41, 276, 39, 283, 30, 285, 12, 291, 0],
  [221, 0, 226, 12, 232, 26, 240, 36, 254, 38, 272, 34, 280, 24, 280, 10, 284, 0],
  [234, 0, 238, 12, 243, 22, 250, 29, 254, 31, 265, 28, 272, 16, 273, 0],
  [243, 0, 246, 6, 250, 12, 254, 15, 258, 13, 261, 6, 264, 0],
];

const outer370: P[] = [[0, 25, 30, 30, 50, 48, 70, 60, 100, 66, 240, 70, 320, 70, 334, 55, 345, 40, 360, 36], [0, 9, 25, 13, 47, 26, 70, 46, 105, 60, 240, 65, 316, 65, 331, 40, 345, 26, 360, 24]];
const fills370: [number, number][] = [[2, 172], [5, 175], [8, 178], [11, 181]];
const patches370: Patch[] = [[196, [235, 56, 256, 58, 280, 56, 278, 50, 245, 50]]];
const arcs370: P[] = [
  [70, 0, 98, 22, 128, 38, 175, 53, 232, 63, 290, 65, 320, 60, 332, 42, 345, 22, 356, 0],
  [84, 0, 110, 20, 140, 36, 186, 51, 237, 61, 290, 63, 316, 57, 328, 38, 340, 15, 351, 0],
  [98, 0, 122, 20, 152, 35, 195, 49, 241, 59, 288, 60, 312, 54, 324, 34, 335, 12, 345, 0],
  [112, 0, 134, 19, 163, 34, 203, 47, 245, 57, 286, 58, 309, 50, 319, 30, 330, 10, 339, 0],
  [124, 0, 146, 19, 173, 33, 211, 45, 248, 55, 284, 56, 305, 47, 315, 28, 325, 10, 333, 0],
  [137, 0, 157, 18, 182, 32, 218, 44, 252, 53, 282, 53, 302, 43, 310, 26, 318, 10, 327, 0],
  [150, 0, 167, 17, 190, 31, 224, 43, 254, 50, 280, 50, 298, 40, 305, 24, 312, 9, 321, 0],
  [162, 0, 177, 17, 199, 29, 230, 41, 256, 47, 278, 46, 294, 36, 300, 22, 306, 8, 315, 0],
  [174, 0, 188, 16, 207, 28, 232, 39, 256, 44, 276, 43, 290, 33, 294, 20, 299, 8, 309, 0],
  [186, 0, 199, 15, 214, 27, 235, 38, 256, 41, 276, 40, 288, 30, 292, 16, 303, 0],
  [198, 0, 209, 14, 220, 26, 236, 35, 256, 37, 276, 36, 285, 28, 288, 14, 297, 0],
  [210, 0, 218, 13, 226, 24, 238, 32, 255, 34, 276, 32, 283, 25, 284, 12, 291, 0],
  [222, 0, 228, 11, 234, 21, 242, 27, 254, 29, 272, 26, 279, 19, 280, 9, 284, 0],
  [234, 0, 240, 9, 245, 16, 252, 20, 262, 20, 270, 15, 274, 7, 276, 0],
  [244, 0, 248, 5, 252, 10, 256, 12, 262, 9, 265, 4, 266, 0],
];

const outer450: P[] = [[0, 27, 17, 30, 33, 42, 46, 59, 64, 67, 152, 69, 261, 69, 315, 67, 330, 54, 342, 39, 360, 37], [0, 10, 32, 15, 50, 35, 68, 54, 115, 62, 261, 64, 308, 62, 326, 45, 341, 29, 360, 22]];
const fills450: [number, number][] = [[3, 172], [6, 175], [9, 178], [12, 181]];
const patches450: Patch[] = [];
const arcs450: P[] = [
  [28, 0, 55, 25, 90, 45, 150, 58, 250, 63, 300, 61, 325, 44, 342, 22, 360, 8],
  [52, 0, 75, 18, 105, 38, 160, 54, 250, 60, 298, 58, 320, 40, 335, 18, 354, 0],
  [75, 0, 95, 16, 125, 34, 175, 50, 250, 57, 295, 55, 316, 36, 330, 15, 347, 0],
  [92, 0, 112, 15, 140, 31, 185, 47, 250, 54, 292, 52, 312, 33, 325, 13, 340, 0],
  [105, 0, 125, 14, 155, 29, 200, 44, 250, 51, 290, 49, 308, 30, 320, 12, 334, 0],
  [117, 0, 135, 13, 165, 27, 210, 41, 250, 48, 288, 46, 303, 28, 315, 11, 328, 0],
  [130, 0, 148, 12, 175, 25, 215, 38, 250, 45, 285, 43, 299, 26, 310, 10, 322, 0],
  [141, 0, 158, 12, 185, 24, 222, 36, 252, 42, 282, 40, 295, 24, 305, 9, 316, 0],
  [152, 0, 170, 11, 195, 22, 228, 33, 252, 38, 279, 36, 291, 21, 300, 8, 310, 0],
  [163, 0, 180, 10, 205, 21, 232, 31, 252, 35, 275, 33, 286, 19, 295, 7, 304, 0],
  [174, 0, 190, 10, 212, 20, 235, 28, 252, 31, 272, 29, 282, 16, 290, 6, 298, 0],
  [190, 0, 203, 10, 220, 18, 238, 25, 252, 27, 268, 25, 278, 13, 292, 0],
  [207, 0, 216, 8, 228, 16, 242, 22, 252, 23, 264, 21, 274, 10, 285, 0],
  [226, 0, 232, 6, 240, 13, 252, 17, 262, 14, 272, 6, 278, 0],
  [240, 0, 244, 4, 250, 8, 256, 8, 262, 4, 267, 0],
];

const panelOuters = [outer10, outer40, outer70, outer100, outer130, outer160, outer190, outer220, outer250, outer280, outer310, outer340, outer370, outer450];
const panelArcs = [arcs10, arcs40, arcs70, arcs100, arcs130, arcs160, arcs190, arcs220, arcs250, arcs280, arcs310, arcs340, arcs370, arcs450];
const panelFills = [[], [], [], [], fills130, fills160, fills190, fills220, fills250, fills280, fills310, fills340, fills370, fills450] as [number, number][][];
const panelPatches = [patches10, patches40, patches70, patches100, patches130, patches160, patches190, patches220, patches250, patches280, patches310, patches340, patches370, patches450];
const panelLoops: P[][] = [loops10, loops40, loops70, loops100, [], [], [], [], [], [], [], [], [], []];

// layout
const colX = [44.3, 613.3, 1182.3];
const panelX = [102.9, 671.9, 1240.9];
const panelTop = [43.3, 310.8, 579, 846.2, 1114.5, 1383];
const titleY = [32.7, 296.6, 560.5, 824.4, 1088.3, 1351.5];
const titleX = [268.7, 844.5, 1421];
const strayDots = [[205, 38], [789, 38], [1350, 38], [219, 306], [788, 306], [1357, 306], [219, 842], [796, 842], [1357, 842]];

function lerpStops(stops: [number, string][], v: number) {
  const parse = (c: string) => [1, 3, 5].map((i) => parseInt(c.slice(i, i + 2), 16));
  if (v <= stops[0][0]) return stops[0][1];
  for (let i = 1; i < stops.length; i++) {
    if (v <= stops[i][0]) {
      const t = (v - stops[i - 1][0]) / (stops[i][0] - stops[i - 1][0]);
      const a = parse(stops[i - 1][1]);
      const b = parse(stops[i][1]);
      return `rgb(${a.map((x, k) => Math.round(x + (b[k] - x) * t)).join(',')})`;
    }
  }
  return stops[stops.length - 1][1];
}

const pairs = (p: P) => {
  const out: number[][] = [];
  for (let i = 0; i + 1 < p.length; i += 2) out.push([p[i], p[i + 1]]);
  return out;
};

type Item = { pts: number[][]; fill?: string; stroke?: string; width?: number; smooth?: number; closed?: boolean };

function panelItems(i: number): Item[] {
  const items: Item[] = [];
  const arcs = panelArcs[i];
  panelFills[i].forEach(([k, t]) => {
    items.push({ pts: pairs(arcs[k]).map(([x, y]) => [x, y === 0 ? -4 : y]), fill: lerpStops(tempStops, t), closed: true, smooth: 0.33 });
  });
  panelPatches[i].forEach(([t, p, edge]) => {
    const c = lerpStops(tempStops, t);
    items.push({ pts: pairs(p), fill: c, stroke: edge ? lerpStops(tempStops, edge) : c, width: edge ? 2.4 : 1, closed: true, smooth: 0.33 });
  });
  arrowTopRows.forEach((y) => arrowTopXs.forEach((x) => items.push({ pts: [[x, y], [x + 6, y]], stroke: '#101848', width: 1 })));
  arrowRows.forEach((y) => {
    arrowColumnsLight.forEach((x) => items.push({ pts: [[x, y], [x + 6, y + (x < 180 ? 3 : -3)]], stroke: '#9cc0f5', width: 1 }));
    arrowColumnsDim.forEach((x) => items.push({ pts: [[x, y], [x + 5, y + (x < 180 ? 4 : -4)]], stroke: '#3c66c8', width: 1 }));
  });
  panelOuters[i].forEach((p, k) => items.push({ pts: pairs(p), stroke: outerColors[k] || outerColors[1], width: 1.2, smooth: 0.35 }));
  const off = contourColors.length - arcs.length;
  const hot = i < 4;
  arcs.forEach((p, k) => {
    const stroke = hot ? contourColors[5 + Math.round((k * 9) / (arcs.length - 1))] : contourColors[Math.max(0, k + off)];
    items.push({ pts: pairs(p), stroke, width: hot ? 1.5 : 1.9, smooth: 0.33 });
  });
  panelLoops[i].forEach((p) => items.push({ pts: pairs(p), stroke: '#8a1a14', width: 1.5, smooth: 0.33, closed: p[1] !== 0 && p[p.length - 1] !== 0 }));
  return items;
}

function buildOption() {
  const grid: any[] = [];
  const xAxis: any[] = [];
  const yAxis: any[] = [];
  const series: any[] = [];
  const graphic: any[] = [];
  const addText = (text: string, x: number, y: number, size: number, color = '#111', align = 'left') =>
    graphic.push({ type: 'text', silent: true, style: { text, x, y, font: `${size}px ${FONT}`, fill: color, align, verticalAlign: 'middle' } });

  panelTitles.forEach((title, i) => {
    const row = Math.floor(i / 3);
    const col = i === 13 ? 0 : i % 3;
    const rowIndex = i === 13 ? 5 : row;
    const top = panelTop[rowIndex];

    // temperature panel
    const g = grid.length;
    grid.push({ left: panelX[col], top, width: 359.5, height: 72, show: true, backgroundColor: '#0000ff', borderColor: '#555', borderWidth: 1 });
    xAxis.push({ gridIndex: g, type: 'value', min: 0, max: 360, show: false });
    yAxis.push({ gridIndex: g, type: 'value', min: 0, max: 72, show: false });
    const items = panelItems(i);
    series.push({
      type: 'custom',
      xAxisIndex: xAxis.length - 1,
      yAxisIndex: yAxis.length - 1,
      clip: true,
      silent: true,
      data: items.map((_, k) => [k]),
      renderItem: (params: any, api: any) => {
        const it = items[params.dataIndex];
        const points = it.pts.map((p) => api.coord(p));
        return {
          type: it.closed ? 'polygon' : 'polyline',
          shape: { points, smooth: it.smooth || 0 },
          style: { fill: it.fill || 'none', stroke: it.stroke || it.fill, lineWidth: it.width || 1 },
        };
      },
    });

    // colorbars
    const addBar = (y: number, min: number, max: number, ticks: number[], gradient: any) => {
      const b = grid.length;
      grid.push({ left: colX[col], top: y, width: 348.3, height: 15, show: true, backgroundColor: gradient, borderColor: '#000', borderWidth: 1.5 });
      const common = { gridIndex: b, type: 'value', min, max, axisLine: { show: false }, splitLine: { show: false } };
      xAxis.push({
        ...common,
        position: 'bottom',
        axisTick: { inside: true, length: 3, lineStyle: { color: '#000' }, customValues: ticks },
        axisLabel: { fontFamily: FONT, fontSize: 24, color: '#111', margin: 2, customValues: ticks, hideOverlap: false, showMinLabel: true, showMaxLabel: true },
      });
      yAxis.push({ gridIndex: b, type: 'value', min: 0, max: 1, show: false });
      xAxis.push({
        ...common,
        position: 'top',
        axisTick: { inside: true, length: 3, lineStyle: { color: '#000' }, customValues: ticks },
        axisLabel: { show: false },
      });
    };
    const velStops = velocityStops.map(([o, color]) => ({ offset: o, color }));
    addBar(top + 95, 0, velocityMax[i], velocityTicks[i], new echarts.graphic.LinearGradient(0, 0, 1, 0, velStops));
    const tempMin = 170;
    const tempMax = 270;
    const tStops = tempStops.map(([v, color]) => ({ offset: (v - tempMin) / (tempMax - tempMin), color }));
    addBar(top + 153.4, tempMin, tempMax, temperatureTicks, new echarts.graphic.LinearGradient(0, 0, 1, 0, tStops));

    // labels
    const dx = colX[col] - colX[0];
    const tx = i === 13 ? 279 : row === 0 ? titleX[col] : [275, 852, 1427.5][col];
    addText(title, tx, titleY[rowIndex], 20, '#222', 'center');
    addText('\u00d7', 397 + dx, top + 100.5, 21);
    addText('10', 414.5 + dx, top + 100.5, 21.5);
    addText(velocityExp[i], 443 + dx, top + 90.5, 17.5);
    addText('m/s', 478 + dx, top + 100.5, 23);
    addText('K', 478 + dx, top + 158.4, 24);
  });

  strayDots.forEach(([x, y]) => graphic.push({ type: 'rect', silent: true, shape: { x, y, width: 2, height: 2 }, style: { fill: '#222' } }));

  // profile plot
  const m = grid.length;
  grid.push({ left: 652, top: 1097, width: 1033, height: 416, show: true, backgroundColor: '#fff', borderColor: '#000', borderWidth: 1.5 });
  const xCommon = { gridIndex: m, type: 'value', min: 154.04, max: 242.1, axisLine: { show: false } };
  const yCommon = { gridIndex: m, type: 'value', min: -0.03, max: 1.03, axisLine: { show: false } };
  const tickStyle = { inside: true, length: 6, lineStyle: { color: '#000', width: 1 } };
  const mx = xAxis.length;
  xAxis.push({
    ...xCommon,
    position: 'bottom',
    name: 'Temperature [K]',
    nameLocation: 'middle',
    nameGap: 32,
    nameTextStyle: { fontFamily: FONT, fontSize: 24, color: '#111' },
    axisTick: { ...tickStyle, customValues: temperatureAxisTicks },
    axisLabel: { fontFamily: FONT, fontSize: 24, color: '#111', margin: 9, customValues: temperatureAxisTicks },
    splitLine: { show: true, lineStyle: { color: '#e4e4e4', width: 1.5 } },
  });
  xAxis.push({ ...xCommon, position: 'top', axisTick: { ...tickStyle, customValues: temperatureAxisTicks }, axisLabel: { show: false }, splitLine: { show: false } });
  const my = yAxis.length;
  yAxis.push({
    ...yCommon,
    position: 'left',
    axisTick: { ...tickStyle, customValues: heightTicks },
    axisLabel: { fontFamily: FONT, fontSize: 24, color: '#111', margin: 5, customValues: heightTicks },
    splitLine: { show: true, lineStyle: { color: '#e8e8e8', width: 2 } },
  });
  yAxis.push({ ...yCommon, position: 'right', axisTick: { ...tickStyle, customValues: heightTicks }, axisLabel: { show: false }, splitLine: { show: false } });

  profileNames.forEach((name, i) => {
    series.push({
      name,
      type: 'line',
      xAxisIndex: mx,
      yAxisIndex: my,
      data: profileCurves[i],
      smooth: 0.33,
      showSymbol: false,
      symbol: 'none',
      silent: true,
      lineStyle: { color: profileColors[i], width: i === 0 ? 3.4 : 3.2, type: profileDash[i] },
      itemStyle: { color: profileColors[i] },
    });
  });

  graphic.push({ type: 'rect', silent: true, z: 100, shape: { x: 661, y: 1198, width: 148, height: 305 }, style: { fill: '#bbbbbb' } });

  return {
    animation: false,
    backgroundColor: '#ffffff',
    textStyle: { fontFamily: FONT },
    grid,
    xAxis,
    yAxis,
    series,
    graphic,
    legend: {
      data: profileNames,
      orient: 'vertical',
      left: 664,
      top: 1194,
      z: 200,
      padding: [6, 9, 4, 9],
      itemWidth: 26,
      itemHeight: 1,
      itemGap: 5,
      backgroundColor: '#ffffff',
      borderColor: '#000',
      borderWidth: 1.5,
      selectedMode: false,
      textStyle: { fontFamily: FONT, fontSize: 24, color: '#111', lineHeight: 28 },
      lineStyle: { width: 2 },
    },
  };
}

export default function App() {
  const ref = useRef<HTMLDivElement>(null);

  useEffect(() => {
    if (!ref.current) return;
    const chart = echarts.init(ref.current, null, { renderer: 'svg' });
    chart.setOption(buildOption() as any);
    return () => chart.dispose();
  }, []);

  return <div ref={ref} style={{ position: 'absolute', left: 0, top: 0, width: 1710, height: 1584 }} />;
}
